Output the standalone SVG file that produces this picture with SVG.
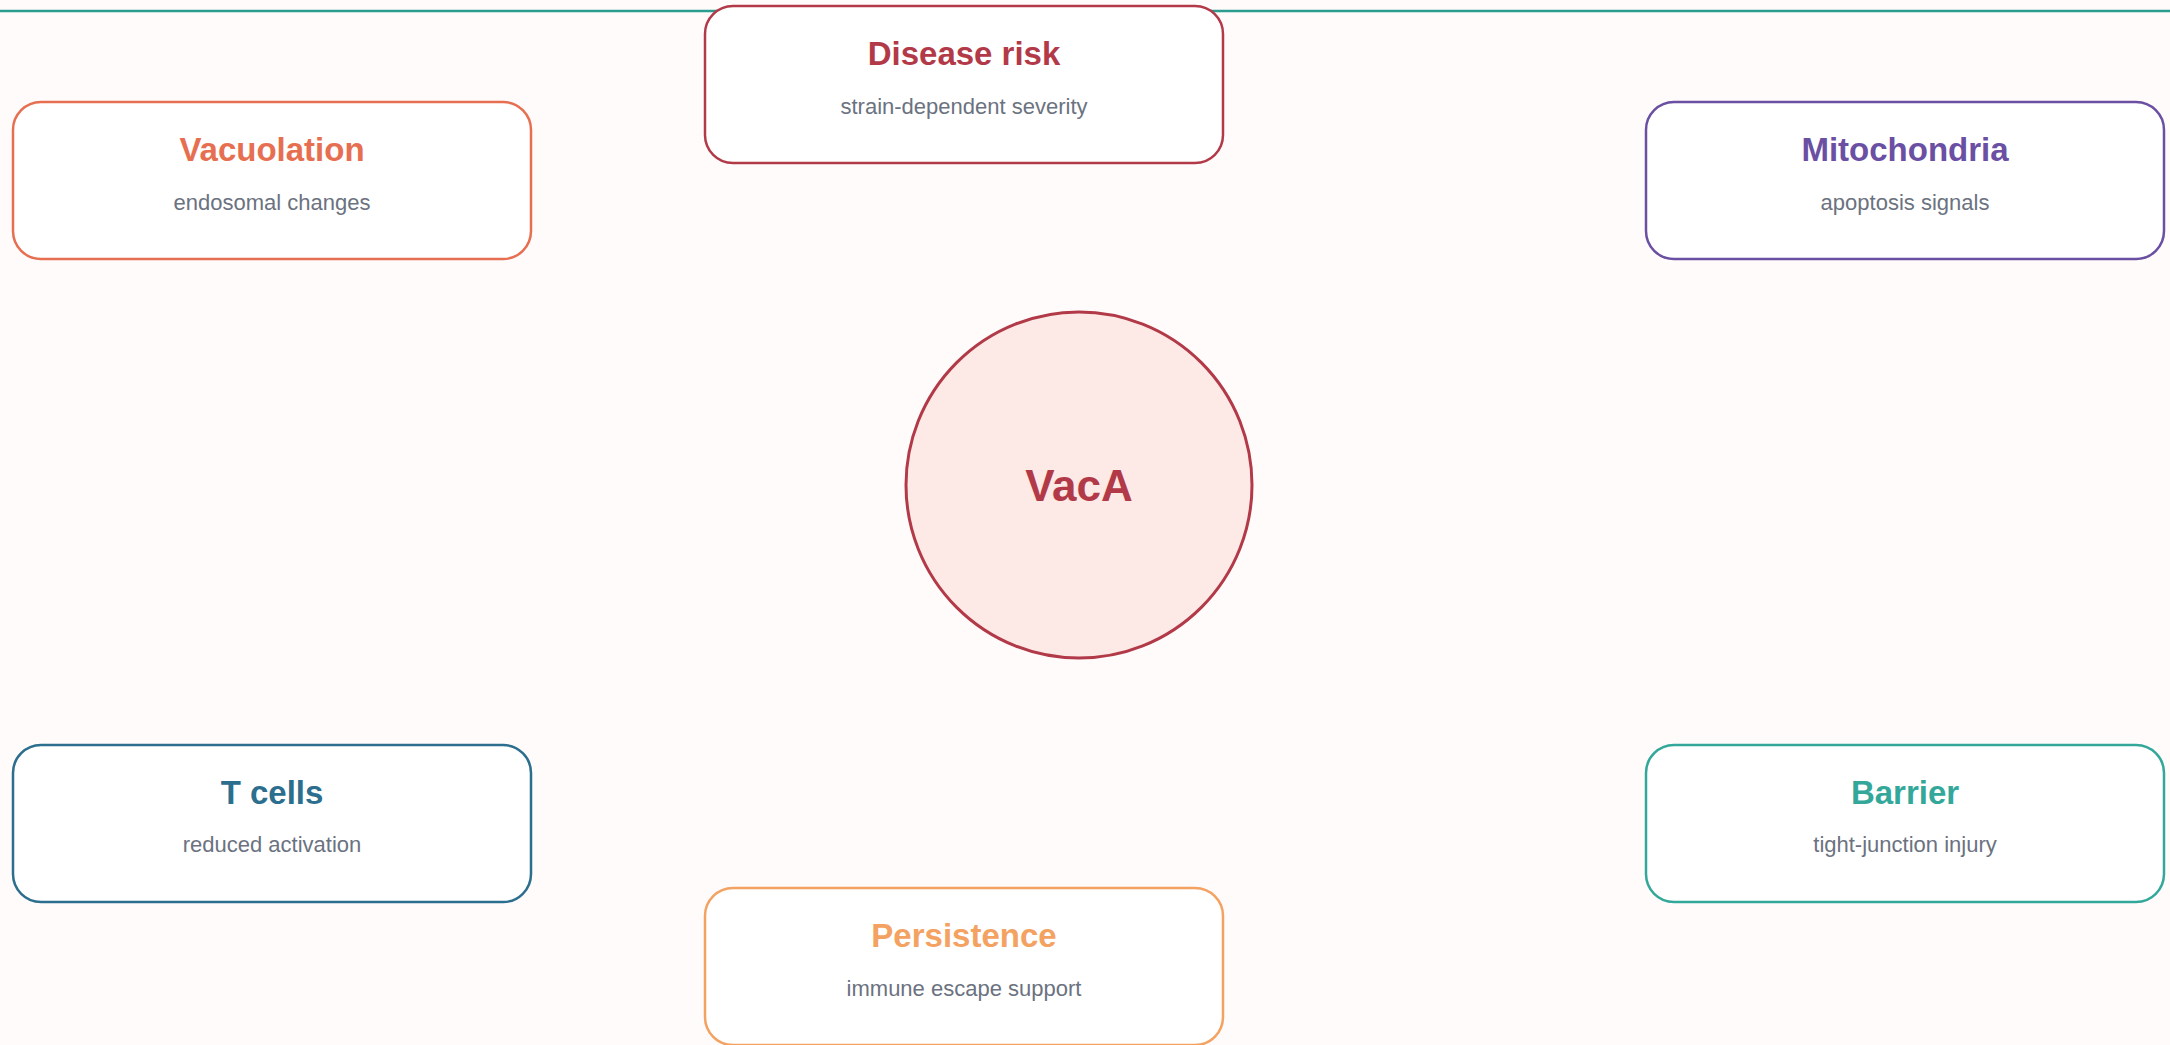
<svg xmlns="http://www.w3.org/2000/svg" width="2170" height="1045" viewBox="0 0 2170 1045">
<style>
.box{fill:#ffffff;stroke-width:2.5}
.t{font-family:"Liberation Sans",Arial,sans-serif;font-weight:bold;font-size:33px;text-anchor:middle}
.s{font-family:"Liberation Sans",Arial,sans-serif;font-size:22px;fill:#6b7280;text-anchor:middle}
</style>
<rect x="0" y="0" width="2170" height="1045" fill="#fffbfb"/>
<g id="connectors">
<line x1="0" y1="11" x2="2170" y2="11" stroke="#2a9d8f" stroke-width="2.5"/>
</g>
<g id="node-vaca">
<circle cx="1079" cy="485" r="173" fill="#fde9e6" stroke="#b23a48" stroke-width="3"/>
<text x="1079" y="501" class="t" style="font-size:44px" fill="#b23a48">VacA</text>
</g>
<g id="node-disease">
<rect class="box" x="705" y="6" width="518" height="157" rx="28" stroke="#b23a48"/>
<text x="964" y="65" class="t" fill="#b23a48">Disease risk</text>
<text x="964" y="114" class="s">strain-dependent severity</text>
</g>
<g id="node-vacuolation">
<rect class="box" x="13" y="102" width="518" height="157" rx="28" stroke="#e76f51"/>
<text x="272" y="161" class="t" fill="#e76f51">Vacuolation</text>
<text x="272" y="210" class="s">endosomal changes</text>
</g>
<g id="node-mitochondria">
<rect class="box" x="1646" y="102" width="518" height="157" rx="28" stroke="#6a4fa3"/>
<text x="1905" y="161" class="t" fill="#6a4fa3">Mitochondria</text>
<text x="1905" y="210" class="s">apoptosis signals</text>
</g>
<g id="node-tcells">
<rect class="box" x="13" y="745" width="518" height="157" rx="28" stroke="#2c6e8e"/>
<text x="272" y="804" class="t" fill="#2c6e8e">T cells</text>
<text x="272" y="852" class="s">reduced activation</text>
</g>
<g id="node-barrier">
<rect class="box" x="1646" y="745" width="518" height="157" rx="28" stroke="#33a89a"/>
<text x="1905" y="804" class="t" fill="#33a89a">Barrier</text>
<text x="1905" y="852" class="s">tight-junction injury</text>
</g>
<g id="node-persistence">
<rect class="box" x="705" y="888" width="518" height="157" rx="28" stroke="#f4a261"/>
<text x="964" y="947" class="t" fill="#f4a261">Persistence</text>
<text x="964" y="996" class="s">immune escape support</text>
</g>
</svg>
